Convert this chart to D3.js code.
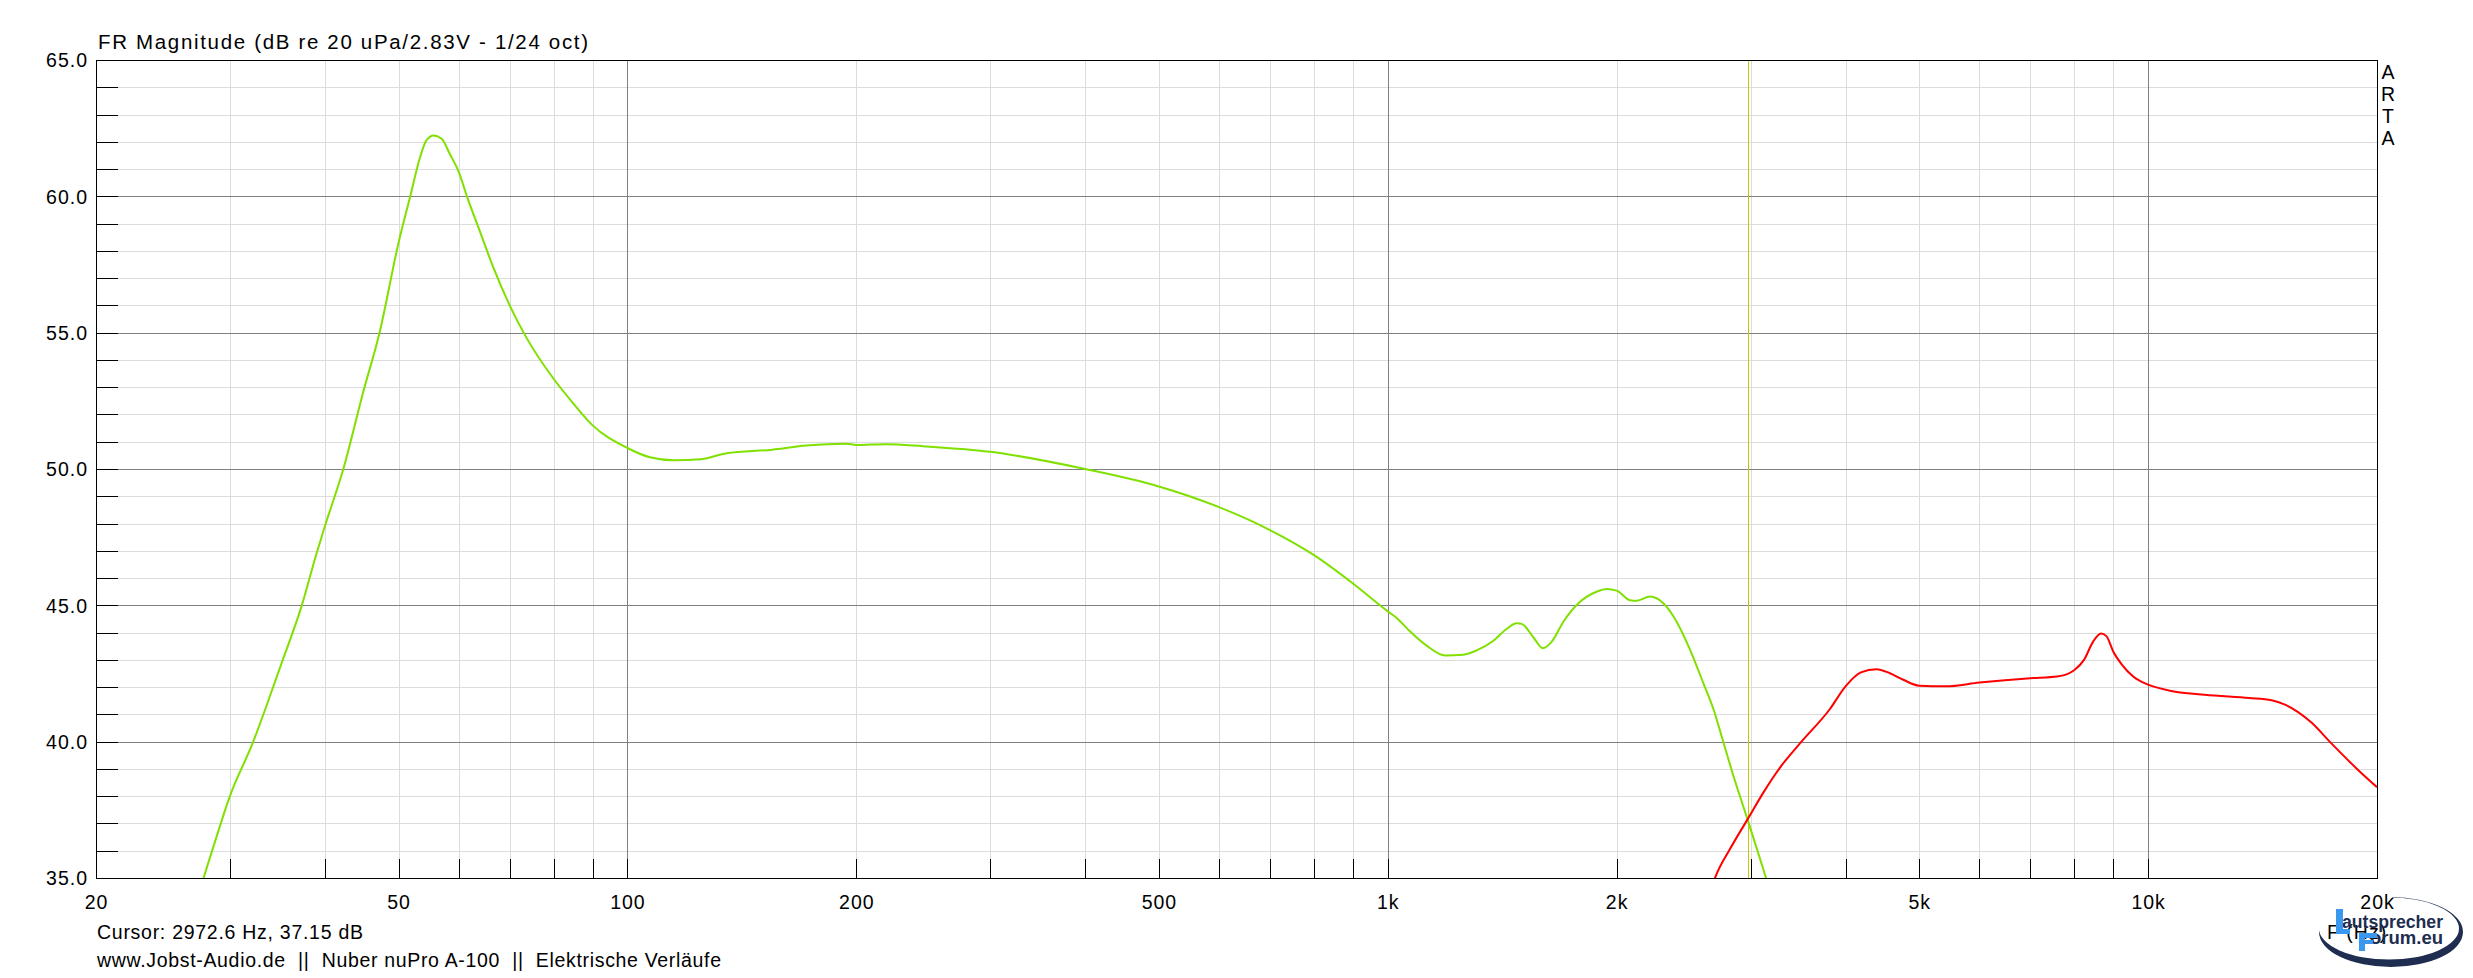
<!DOCTYPE html>
<html>
<head>
<meta charset="utf-8">
<script src="https://cdn.jsdelivr.net/npm/d3@7"></script>
<style>
  html, body { margin: 0; padding: 0; background: #fff; }
  svg { display: block; }
  text { font-family: "Liberation Sans", Arial, sans-serif; fill: #000; }
</style>
</head>
<body>
<svg id="chart" width="2473" height="978"></svg>
<script>
// ---------------- DATA ----------------
const titleText = "FR Magnitude (dB re 20 uPa/2.83V - 1/24 oct)";
const cursorText = "Cursor: 2972.6 Hz, 37.15 dB";
const footerText = "www.Jobst-Audio.de  ||  Nuber nuPro A-100  ||  Elektrische Verläufe";
const xAxisName = "F (Hz)";
const sideLabel = ["A", "R", "T", "A"];

const xTickValues = [20, 50, 100, 200, 500, 1000, 2000, 5000, 10000, 20000];
const xTickLabels = ["20", "50", "100", "200", "500", "1k", "2k", "5k", "10k", "20k"];
const yMajorValues = [35, 40, 45, 50, 55, 60, 65];
const cursorFreq = 2972.6;

// Woofer (green) – frequency in Hz, level in dB
const wooferFreq = [26.5, 27.7, 28.8, 30, 32.2, 33.5, 34.9, 37.3, 39.0, 40, 42.3, 44.9, 47.2, 50, 51.8, 53.4, 54.4, 55.6, 57.0, 58.4, 60, 61.5, 64.0, 66.6, 70, 73.7, 80, 84.9, 90, 100, 107, 115, 125, 135, 155, 172, 194, 200, 219, 244, 300, 400, 500, 600, 700, 800, 900, 1000, 1028, 1070, 1125, 1190, 1257, 1309, 1377, 1434, 1478, 1500, 1554, 1599, 1643, 1702, 1790, 1882, 1940, 2000, 2082, 2126, 2212, 2305, 2376, 2498, 2600, 2682, 2762, 2848, 2972.6, 3058, 3144, 3230];
const wooferDb   = [33.3, 35.0, 36.5, 38.0, 40.0, 41.3, 42.7, 45.0, 46.9, 47.9, 50.0, 52.8, 55.0, 58.3, 60.0, 61.46, 62.05, 62.23, 62.1, 61.55, 60.9, 60.0, 58.7, 57.4, 56.0, 54.8, 53.3, 52.4, 51.6, 50.77, 50.43, 50.32, 50.36, 50.58, 50.71, 50.86, 50.93, 50.88, 50.91, 50.84, 50.63, 50.0, 49.36, 48.6, 47.76, 46.84, 45.8, 44.78, 44.53, 44.04, 43.52, 43.16, 43.19, 43.35, 43.70, 44.14, 44.34, 44.32, 43.83, 43.43, 43.67, 44.40, 45.13, 45.50, 45.60, 45.54, 45.19, 45.17, 45.32, 45.07, 44.59, 43.37, 42.15, 41.18, 40.0, 38.75, 37.15, 36.07, 35.0, 33.9];

// Tweeter (red)
const tweeterFreq = [2600, 2700, 2820, 2972.6, 3120, 3280, 3500, 3811, 4000, 4190, 4392, 4575, 4765, 5000, 5415, 6000, 7000, 7594, 8000, 8235, 8462, 8670, 8814, 9000, 9241, 9558, 10000, 10646, 11866, 13582, 14530, 15134, 16414, 17330, 19040, 20000];
const tweeterDb   = [33.6, 35.07, 36.07, 37.15, 38.14, 39.05, 40.0, 41.18, 42.03, 42.54, 42.66, 42.51, 42.27, 42.05, 42.03, 42.17, 42.33, 42.39, 42.63, 43.0, 43.66, 43.97, 43.87, 43.30, 42.82, 42.39, 42.09, 41.88, 41.72, 41.60, 41.52, 41.36, 40.69, 40.0, 38.87, 38.33];

// ---------------- LAYOUT ----------------
const L = 96, R = 2377, T = 60, B = 878;
const svg = d3.select("#chart");
const x = d3.scaleLog().domain([20, 20000]).range([L, R]);
const y = d3.scaleLinear().domain([35, 65]).range([B, T]);

// frequency grid values
const minorFreqs = [];
[10, 100, 1000, 10000].forEach(dec => {
  for (let m = 2; m <= 9; m++) {
    const f = dec * m;
    if (f > 20 && f < 20000) minorFreqs.push(f);
  }
});
const majorFreqs = [100, 1000, 10000];
const allDb = d3.range(36, 65);
const minorDb = allDb.filter(d => d % 5 !== 0);
const majorDb = allDb.filter(d => d % 5 === 0);

const grid = svg.append("g").attr("shape-rendering", "crispEdges");
grid.selectAll(".hmin").data(minorDb).join("line")
  .attr("x1", L).attr("x2", R)
  .attr("y1", d => Math.round(y(d)) + 0.5).attr("y2", d => Math.round(y(d)) + 0.5)
  .attr("stroke", "#dcdcdc").attr("stroke-width", 1);
grid.selectAll(".vmin").data(minorFreqs).join("line")
  .attr("x1", d => Math.round(x(d)) + 0.5).attr("x2", d => Math.round(x(d)) + 0.5)
  .attr("y1", T).attr("y2", B)
  .attr("stroke", "#dcdcdc").attr("stroke-width", 1);
grid.selectAll(".hmaj").data(majorDb).join("line")
  .attr("x1", L).attr("x2", R)
  .attr("y1", d => Math.round(y(d)) + 0.5).attr("y2", d => Math.round(y(d)) + 0.5)
  .attr("stroke", "#808080").attr("stroke-width", 1);
grid.selectAll(".vmaj").data(majorFreqs).join("line")
  .attr("x1", d => Math.round(x(d)) + 0.5).attr("x2", d => Math.round(x(d)) + 0.5)
  .attr("y1", T).attr("y2", B)
  .attr("stroke", "#808080").attr("stroke-width", 1);

// inner ticks
const ticks = svg.append("g").attr("shape-rendering", "crispEdges");
ticks.selectAll(".yt").data(allDb).join("line")
  .attr("x1", L).attr("x2", L + 22)
  .attr("y1", d => Math.round(y(d)) + 0.5).attr("y2", d => Math.round(y(d)) + 0.5)
  .attr("stroke", "#000").attr("stroke-width", 1);
ticks.selectAll(".xt").data(minorFreqs.concat(majorFreqs)).join("line")
  .attr("x1", d => Math.round(x(d)) + 0.5).attr("x2", d => Math.round(x(d)) + 0.5)
  .attr("y1", B).attr("y2", B - 19)
  .attr("stroke", "#000").attr("stroke-width", 1);

// clip
const defs = svg.append("defs");
defs.append("clipPath").attr("id", "plotClip")
  .append("rect").attr("x", L).attr("y", T).attr("width", R - L).attr("height", B - T);

// cursor
svg.append("line")
  .attr("x1", Math.round(x(cursorFreq)) + 0.5).attr("x2", Math.round(x(cursorFreq)) + 0.5)
  .attr("y1", T).attr("y2", B)
  .attr("stroke", "#c8c800").attr("stroke-width", 1.2).attr("shape-rendering", "crispEdges");

// curves
const line = d3.line().x(d => x(d[0])).y(d => y(d[1])).curve(d3.curveMonotoneX);
const curves = svg.append("g").attr("clip-path", "url(#plotClip)");
curves.append("path").datum(d3.zip(wooferFreq, wooferDb))
  .attr("d", line).attr("fill", "none").attr("stroke", "#80e000").attr("stroke-width", 2)
  .attr("stroke-linejoin", "round");
curves.append("path").datum(d3.zip(tweeterFreq, tweeterDb))
  .attr("d", line).attr("fill", "none").attr("stroke", "#ff0000").attr("stroke-width", 2)
  .attr("stroke-linejoin", "round");

// border
svg.append("rect").attr("x", L + 0.5).attr("y", T + 0.5).attr("width", R - L).attr("height", B - T)
  .attr("fill", "none").attr("stroke", "#000").attr("stroke-width", 1.2).attr("shape-rendering", "crispEdges");

// axes labels
const yAxis = d3.axisLeft(y).tickValues(yMajorValues).tickFormat(d3.format(".1f")).tickSize(0).tickPadding(8);
const gy = svg.append("g").attr("transform", `translate(${L},0)`).call(yAxis);
gy.select(".domain").remove();
gy.selectAll("text").attr("font-size", 19.5).attr("font-family", '"Liberation Sans", Arial, sans-serif')
  .style("letter-spacing", "1px").attr("dy", "0.35em").attr("fill", "#000");

const xAxis = d3.axisBottom(x).tickValues(xTickValues).tickFormat((d, i) => xTickLabels[i]).tickSize(0).tickPadding(17);
const gx = svg.append("g").attr("transform", `translate(0,${B})`).call(xAxis);
gx.select(".domain").remove();
gx.selectAll("text").attr("font-size", 19.5).attr("font-family", '"Liberation Sans", Arial, sans-serif')
  .style("letter-spacing", "1px").attr("fill", "#000");

// title & footers
svg.append("text").attr("x", 98).attr("y", 48.5).attr("font-size", 20.5)
  .attr("textLength", 490).attr("lengthAdjust", "spacing").text(titleText);
svg.append("text").attr("x", 97).attr("y", 938.5).attr("font-size", 19.5)
  .attr("textLength", 266).attr("lengthAdjust", "spacing").text(cursorText);
svg.append("text").attr("x", 97).attr("y", 966.5).attr("font-size", 19.5)
  .style("white-space", "pre")
  .attr("textLength", 624).attr("lengthAdjust", "spacing").text(footerText);
svg.append("text").attr("x", 2327).attr("y", 938.5).attr("font-size", 19.5)
  .style("letter-spacing", "1px").text(xAxisName);

// ARTA vertical label
svg.selectAll(".arta").data(sideLabel).join("text")
  .attr("x", 2388).attr("y", (d, i) => 79 + i * 22).attr("text-anchor", "middle")
  .attr("font-size", 19.5).text(d => d);

// logo (Lautsprecher Forum)
const logo = svg.append("g");
const cx = 2391, cy = 932;
function ell(cx, cy, rx, ry) {
  return `M${cx - rx},${cy} a${rx},${ry} 0 1,0 ${2 * rx},0 a${rx},${ry} 0 1,0 ${-2 * rx},0 Z`;
}
defs.append("clipPath").attr("id", "logoClip")
  .append("path").attr("d", `M2300,930 L2392,930 L2392,880 L2480,880 L2480,980 L2300,980 Z`);
logo.append("path")
  .attr("d", ell(cx, cy, 72, 35) + " " + ell(cx - 2, cy - 3.5, 70, 31))
  .attr("fill-rule", "evenodd").attr("fill", "#1e2d50").attr("clip-path", "url(#logoClip)");
logo.append("text").attr("x", 2342).attr("y", 927.5).attr("font-size", 17.5).attr("font-weight", "bold")
  .attr("textLength", 101).attr("lengthAdjust", "spacingAndGlyphs")
  .style("fill", "#1e2d50").text("autsprecher");
logo.append("text").attr("x", 2370).attr("y", 943.5).attr("font-size", 17.5).attr("font-weight", "bold")
  .attr("textLength", 73).attr("lengthAdjust", "spacingAndGlyphs")
  .style("fill", "#1e2d50").text("orum.eu");
const blue = "#3a98ee";
logo.append("path").attr("fill", blue)
  .attr("d", "M2336,909 h7 v20 h7 v5 h-14 Z");
logo.append("path").attr("fill", blue)
  .attr("d", "M2359,933 h18 v5 h-12 v2 h8 v4 h-8 v7 h-6 Z");
</script>
</body>
</html>
